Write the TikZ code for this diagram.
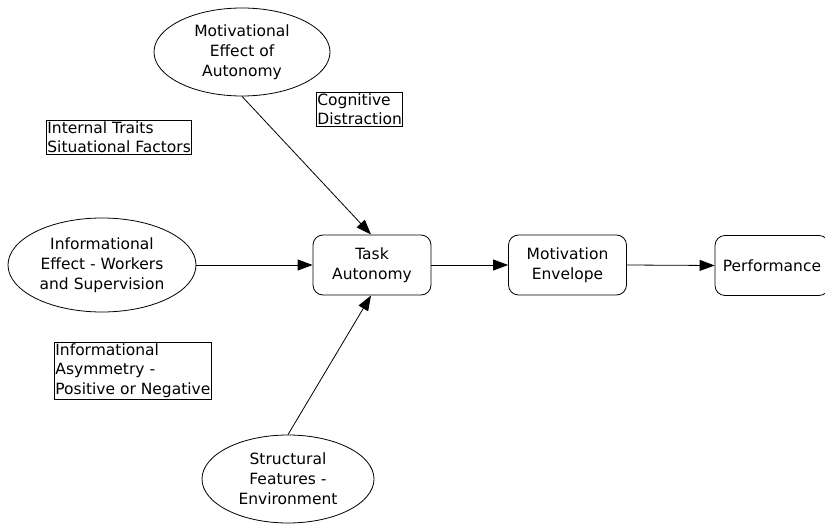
\documentclass[tikz,border=0pt]{standalone}
\usepackage{fontspec}
\setmainfont{DejaVu Sans}
\usetikzlibrary{shapes.geometric,arrows.meta}
\begin{document}
\begin{tikzpicture}[x=1pt,y=-1pt,line width=0.8pt,
  every node/.style={font=\fontsize{15.5}{19.8}\selectfont},
  oval/.style={draw,ellipse,inner sep=0pt,align=center},
  stage/.style={draw,rounded corners=10pt,minimum width=118pt,minimum height=60pt,align=center,inner sep=0pt},
  note/.style={draw,rectangle,align=left,inner sep=1pt,anchor=north west},
  flow/.style={-{Triangle[length=15pt,width=11pt]}}
]
\useasboundingbox (0,0) rectangle (825,529);
\begin{scope}
\clip (0,0) rectangle (825,529);
% ellipses
\node[oval,minimum width=176pt,minimum height=88pt] (mot) at (242,52) {Motivational\\Effect of\\Autonomy};
\node[oval,minimum width=188pt,minimum height=94pt] (inf) at (102,265) {Informational\\Effect - Workers\\and Supervision};
\node[oval,minimum width=172pt,minimum height=88pt] (str) at (288,479) {Structural\\Features -\\Environment};
% process stages
\node[stage] (task) at (372,265) {Task\\Autonomy};
\node[stage] (env) at (567.5,265) {Motivation\\Envelope};
\node[stage,minimum width=114pt] (perf) at (772,265.5) {Performance};
% annotation boxes
\node[note] (cog) at (316,92) {Cognitive\\Distraction};
\node[note] (its) at (46,120) {Internal Traits\\Situational Factors};
\node[note] (asy) at (54,342) {Informational\\Asymmetry -\\Positive or Negative};
% connectors
\coordinate (taskTop) at (371,234.5);
\draw[flow] (mot.south) -- (taskTop);
\draw[flow] (inf.east) -- (task.west);
\coordinate (taskBot) at (371,295.5);
\draw[flow] (str.north) -- (taskBot);
\draw[flow] (task.east) -- (env.west);
\draw[flow] (env.east) -- (perf.west);
\end{scope}
\end{tikzpicture}
\end{document}
